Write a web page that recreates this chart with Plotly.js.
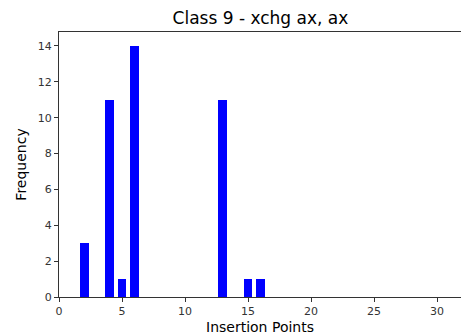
<!DOCTYPE html>
<html>
<head>
<meta charset="utf-8">
<script src="https://cdn.plot.ly/plotly-3.0.1.min.js"></script>
<style>html,body{margin:0;padding:0;background:#fff;}#chart{width:461px;height:335px;}</style>
</head>
<body>
<div id="chart"></div>
<script>
const insertionPoints = [2, 4, 5, 6, 13, 15, 16];
const frequencies = [3, 11, 1, 14, 11, 1, 1];
const xTicks = [0, 5, 10, 15, 20, 25, 30];
const yTicks = [0, 2, 4, 6, 8, 10, 12, 14];

const font = 'DejaVu Sans, sans-serif';
Plotly.newPlot('chart', [{
  type: 'bar',
  x: insertionPoints,
  y: frequencies,
  width: 0.7,
  marker: {color: '#0000ff', line: {width: 0}},
  hoverinfo: 'skip'
}], {
  width: 461, height: 335,
  margin: {l: 59, r: 0, t: 32, b: 38, pad: 0},
  paper_bgcolor: '#fff', plot_bgcolor: '#fff',
  showlegend: false,
  title: {text: 'Class 9 - xchg ax, ax', font: {family: font, size: 17, color: '#000'}, x: 0.565, xanchor: 'center', y: 0.945, yanchor: 'middle'},
  xaxis: {
    range: [0, 31.9], tickvals: xTicks, ticktext: xTicks.map(String),
    showgrid: false, zeroline: false, showline: true, linecolor: '#333', linewidth: 1, mirror: true,
    ticks: 'outside', ticklen: 4, tickcolor: '#333', tickwidth: 1,
    tickfont: {family: font, size: 11, color: '#333'},
    title: {text: 'Insertion Points', font: {family: font, size: 14, color: '#000'}, standoff: 4}
  },
  yaxis: {
    range: [0, 14.78], tickvals: yTicks, ticktext: yTicks.map(String),
    showgrid: false, zeroline: false, showline: true, linecolor: '#333', linewidth: 1, mirror: false,
    ticks: 'outside', ticklen: 4, tickcolor: '#333', tickwidth: 1,
    tickfont: {family: font, size: 11, color: '#333'},
    title: {text: 'Frequency', font: {family: font, size: 14, color: '#000'}, standoff: 7}
  },
  bargap: 0
}, {staticPlot: true, displayModeBar: false});
</script>
</body>
</html>
